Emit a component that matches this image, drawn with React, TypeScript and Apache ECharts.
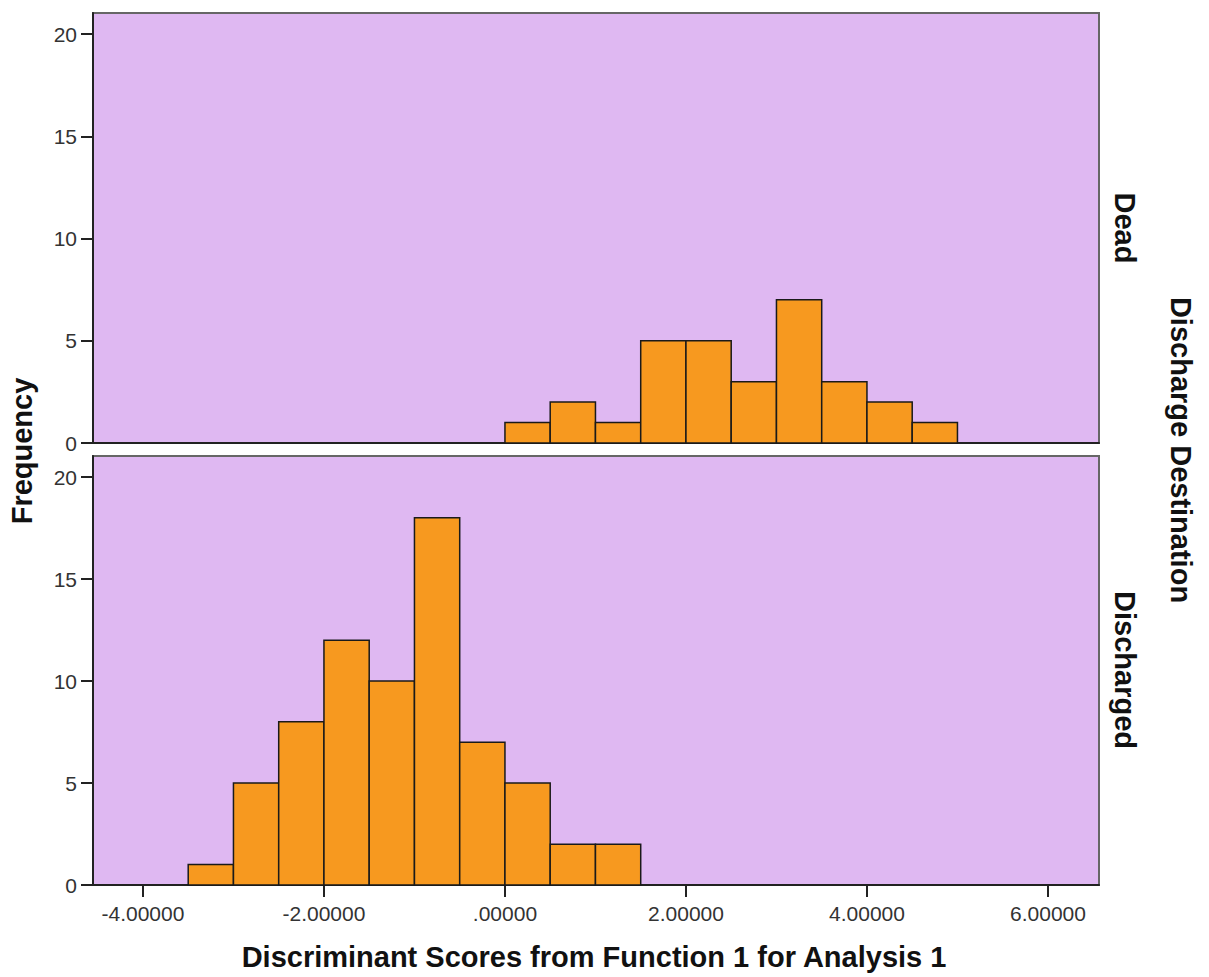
import React, { useEffect, useRef } from "react";
import * as echarts from "echarts";

// Histogram bins: [binStart, binEnd]
const deadBinStarts = [0, 0.5, 1, 1.5, 2, 2.5, 3, 3.5, 4, 4.5];
const deadCounts = [1, 2, 1, 5, 5, 3, 7, 3, 2, 1];
const dischargedBinStarts = [-3.5, -3, -2.5, -2, -1.5, -1, -0.5, 0, 0.5, 1];
const dischargedCounts = [1, 5, 8, 12, 10, 18, 7, 5, 2, 2];
const binWidth = 0.5;
const xTicks = [-4, -2, 0, 2, 4, 6];
const yTicks = [0, 5, 10, 15, 20];
const xMin = -4.552;
const xMax = 6.564;
const yMax = 21.03;
const panelLabels = ["Dead", "Discharged"];
const xTitle = "Discriminant Scores from Function 1 for Analysis 1";
const yTitle = "Frequency";
const facetTitle = "Discharge Destination";

const BG = "#DFB8F2";
const BAR = "#F7991F";
const FONT = "'Liberation Sans', Arial, sans-serif";

function toData(starts: number[], counts: number[]) {
  return starts.map((s, i) => [s, s + binWidth, counts[i]]);
}

const renderBar = (params: any, api: any) => {
  const p0 = api.coord([api.value(0), 0]);
  const p1 = api.coord([api.value(1), api.value(2)]);
  return {
    type: "rect",
    shape: { x: p0[0], y: p1[1], width: p1[0] - p0[0], height: p0[1] - p1[1] },
    style: { fill: BAR, stroke: "#1a1a1a", lineWidth: 1.5 },
  };
};

export default function App() {
  const ref = useRef<HTMLDivElement>(null);
  useEffect(() => {
    if (!ref.current) return;
    const chart = echarts.init(ref.current, null, { renderer: "svg" });
    const xAxisCommon = {
      type: "value",
      min: xMin,
      max: xMax,
      splitLine: { show: false },
      axisLine: { show: true, onZero: false, lineStyle: { color: "#222", width: 2 } },
    };
    const yAxisCommon = {
      type: "value",
      min: 0,
      max: yMax,
      splitLine: { show: false },
      axisLine: { show: true, onZero: false, lineStyle: { color: "#222", width: 2 } },
      axisTick: { show: true, length: 12, customValues: yTicks, lineStyle: { color: "#222", width: 2 } },
      axisLabel: {
        customValues: yTicks,
        margin: 16,
        fontSize: 21,
        color: "#333",
        fontFamily: FONT,
      },
    };
    chart.setOption({
      animation: false,
      backgroundColor: "#fff",
      grid: [
        { left: 93, width: 1006, top: 13, height: 430, show: true, backgroundColor: BG, borderColor: "#666", borderWidth: 2 },
        { left: 93, width: 1006, top: 456, height: 429, show: true, backgroundColor: BG, borderColor: "#666", borderWidth: 2 },
      ],
      xAxis: [
        { ...xAxisCommon, gridIndex: 0, axisTick: { show: false }, axisLabel: { show: false } },
        {
          ...xAxisCommon,
          gridIndex: 1,
          axisTick: { show: true, length: 12, customValues: xTicks, lineStyle: { color: "#222", width: 2 } },
          axisLabel: {
            customValues: xTicks,
            margin: 18,
            fontSize: 21,
            color: "#333",
            fontFamily: FONT,
            formatter: (v: number) => (v === 0 ? ".00000" : v.toFixed(5)),
          },
        },
      ],
      yAxis: [
        { ...yAxisCommon, gridIndex: 0 },
        { ...yAxisCommon, gridIndex: 1 },
      ],
      series: [
        { type: "custom", xAxisIndex: 0, yAxisIndex: 0, renderItem: renderBar, data: toData(deadBinStarts, deadCounts) },
        { type: "custom", xAxisIndex: 1, yAxisIndex: 1, renderItem: renderBar, data: toData(dischargedBinStarts, dischargedCounts) },
      ],
      graphic: [
        {
          type: "text", x: 594, y: 957,
          style: { text: xTitle, font: `bold 29px ${FONT}`, fill: "#111", align: "center", verticalAlign: "middle" },
        },
        {
          type: "text", x: 22, y: 451, rotation: Math.PI / 2,
          style: { text: yTitle, font: `bold 29px ${FONT}`, fill: "#111", align: "center", verticalAlign: "middle" },
        },
        {
          type: "text", x: 1125, y: 228, rotation: -Math.PI / 2,
          style: { text: panelLabels[0], font: `bold 29px ${FONT}`, fill: "#111", align: "center", verticalAlign: "middle" },
        },
        {
          type: "text", x: 1125, y: 670, rotation: -Math.PI / 2,
          style: { text: panelLabels[1], font: `bold 29px ${FONT}`, fill: "#111", align: "center", verticalAlign: "middle" },
        },
        {
          type: "text", x: 1181, y: 450, rotation: -Math.PI / 2,
          style: { text: facetTitle, font: `bold 29px ${FONT}`, fill: "#111", align: "center", verticalAlign: "middle" },
        },
      ],
    });
    return () => chart.dispose();
  }, []);
  return <div ref={ref} style={{ position: "fixed", left: 0, top: 0, width: 1209, height: 977 }} />;
}
